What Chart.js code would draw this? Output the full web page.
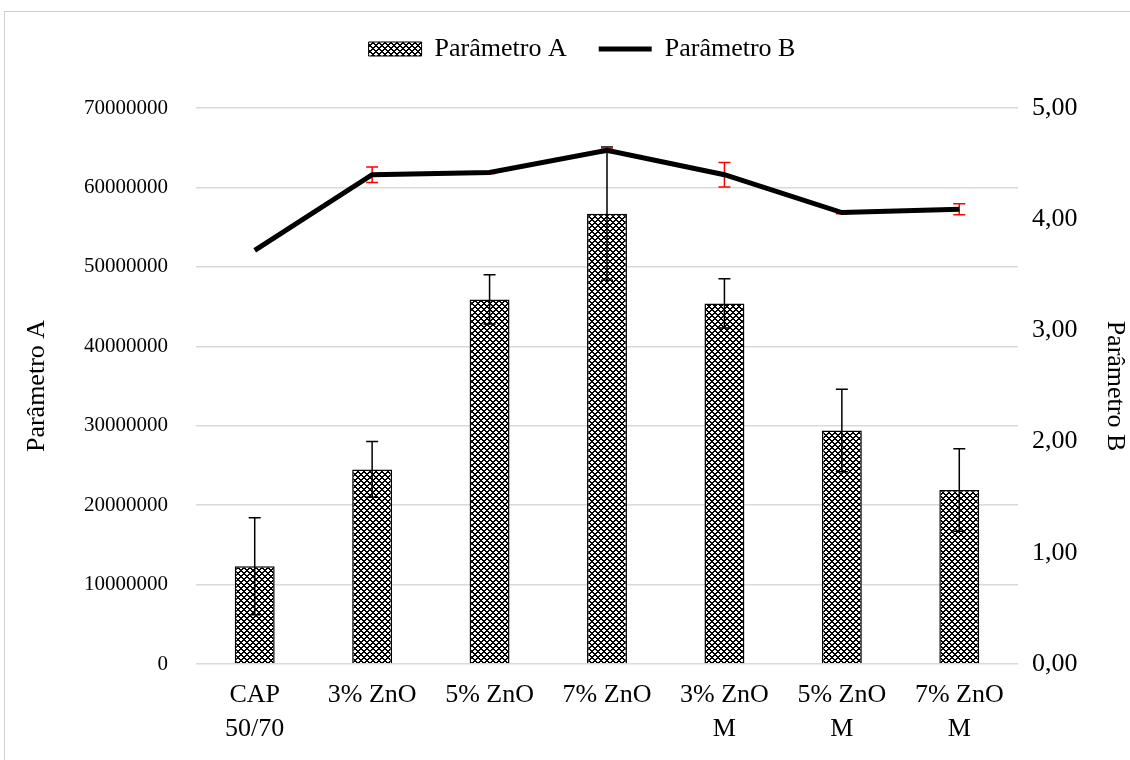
<!DOCTYPE html>
<html>
<head>
<meta charset="utf-8">
<script src="https://cdn.jsdelivr.net/npm/chart.js@4.4.0/dist/chart.umd.min.js"></script>
<style>
  body { margin: 0; background: #fff; }
  #frame { position: absolute; left: 4px; top: 11px; width: 1140px; height: 760px; border: 1px solid #d0d0d0; }
  #wrap { position: absolute; left: 0; top: 0; width: 1130px; height: 760px; }
</style>
</head>
<body>
<div id="frame"></div>
<div id="wrap"><canvas id="myChart"></canvas></div>
<script>
const categories = [["CAP", "50/70"], "3% ZnO", "5% ZnO", "7% ZnO", ["3% ZnO", "M"], ["5% ZnO", "M"], ["7% ZnO", "M"]];
const paramA = [12300000, 24500000, 45900000, 56700000, 45400000, 29400000, 21900000];
const errorA = [6100000, 3500000, 3100000, 8400000, 3100000, 5200000, 5200000];
const paramB = [3.72, 4.40, 4.42, 4.62, 4.40, 4.06, 4.09];
const errorB = [0, 0.07, 0.01, 0.02, 0.11, 0.01, 0.05];

const FONT = "'Liberation Serif', 'Times New Roman', serif";

function makePattern() 
{
    const c = document.createElement('canvas');
    c.width = 6;
    c.height = 6;
    const g = c.getContext('2d');
    g.fillStyle = '#fff';
    g.fillRect(0, 0, 6, 6);
    g.fillStyle = '#000';
    for (let x = 0; x < 6; x++) 
    {
        for (let y = 0; y < 6; y++) 
        {
            const a = (x + y) % 6, b = (x - y + 6) % 6;
            if (a < 2 || b < 2) g.fillRect(x, y, 1, 1);
        }
    }
    return g.createPattern(c, 'repeat');
}

const pattern = makePattern();

// error bars drawn from the data arrays through the scales
const errorBars = 
{
    id: 'errorBars',
    beforeLayout(chart) 
    {
        // leave room under the legend row
        const lg = chart.legend;
        if (lg && !lg._patched) 
        {
            const fit = lg.fit;
            lg.fit = function() { fit.call(this); this.height += 36; };
            lg._patched = true;
        }
    },
    afterLayout(chart) 
    {
        // nudge legend a bit to the right, like the original
        chart.legend.left += 17;
        chart.legend.right += 17;
        chart.legend.adjustHitBoxes();
    },
    afterDatasetDraw(chart, args) 
    {
        if (args.index !== 0) return;
        drawErrors(chart, 0, paramA, errorA, 'y', '#000');
    },
    beforeDatasetDraw(chart, args) 
    {
        if (args.index !== 1) return;
        drawErrors(chart, 1, paramB, errorB, 'y1', '#ff0000');
    }
};

function drawErrors(chart, dsIndex, values, errors, axis, color) 
{
    const ctx = chart.ctx;
    const meta = chart.getDatasetMeta(dsIndex);
    const scale = chart.scales[axis];
    ctx.save();
    ctx.strokeStyle = color;
    ctx.lineWidth = 1.5;
    meta.data.forEach((el, i) => 
    {
        if (!errors[i]) return;
        const x = el.x;
        const top = scale.getPixelForValue(values[i] + errors[i]);
        const bottom = scale.getPixelForValue(values[i] - errors[i]);
        ctx.beginPath();
        ctx.moveTo(x, top);
        ctx.lineTo(x, bottom);
        ctx.moveTo(x - 6, top);
        ctx.lineTo(x + 6, top);
        ctx.moveTo(x - 6, bottom);
        ctx.lineTo(x + 6, bottom);
        ctx.stroke();
    });
    ctx.restore();
}

const ctx = document.getElementById('myChart');
new Chart(ctx, 
{
    data: 
    {
        labels: categories,
        datasets: 
        [{
            type: 'bar',
            label: 'Parâmetro A',
            data: paramA,
            backgroundColor: pattern,
            borderColor: '#000',
            borderWidth: 1.5,
            barPercentage: 0.34,
            categoryPercentage: 1,
            yAxisID: 'y',
            order: 1
        },
        {
            type: 'line',
            label: 'Parâmetro B',
            data: paramB,
            borderColor: '#000',
            backgroundColor: '#000',
            borderWidth: 5,
            pointRadius: 0,
            tension: 0,
            yAxisID: 'y1',
            order: 0
        }]
    },
    options: 
    {
        responsive: true,
        maintainAspectRatio: false,
        animation: false,
        layout: {padding: {top: 4, left: 0, right: 0, bottom: 0}},
        plugins: 
        {
            tooltip: {enabled: false},
            legend: 
            {
                position: 'top',
                labels: 
                {
                    font: {family: FONT, size: 26},
                    color: '#000',
                    usePointStyle: true,
                    pointStyleWidth: 53,
                    boxHeight: 14,
                    padding: 32,
                    generateLabels: () => 
                    [
                        {text: 'Parâmetro A', fillStyle: pattern, strokeStyle: '#000', lineWidth: 1, pointStyle: 'rect', datasetIndex: 0},
                        {text: 'Parâmetro B', fillStyle: '#000', strokeStyle: '#000', lineWidth: 5, pointStyle: 'line', datasetIndex: 1}
                    ]
                }
            }
        },
        scales: 
        {
            x: 
            {
                grid: {display: false},
                border: {display: false},
                ticks: {font: {family: FONT, size: 26, lineHeight: 1.31}, color: '#000', maxRotation: 0, autoSkip: false, padding: 6},
                afterFit: (s) => { s.height = 96; }
            },
            y: 
            {
                position: 'left',
                min: 0,
                max: 70000000,
                ticks: {stepSize: 10000000, font: {family: FONT, size: 21}, color: '#000', padding: 28, callback: (v) => String(v)},
                grid: {color: '#d9d9d9', lineWidth: 1.5, drawTicks: false},
                border: {display: false},
                title: {display: true, text: 'Parâmetro A', font: {family: FONT, size: 26}, color: '#000', padding: {top: 22, bottom: 0}},
                afterFit: (s) => { s.width = 196; }
            },
            y1: 
            {
                position: 'right',
                min: 0,
                max: 5,
                ticks: {stepSize: 1, font: {family: FONT, size: 26}, color: '#000', padding: 14, callback: (v) => v.toFixed(2).replace('.', ',')},
                grid: {display: false, drawTicks: false},
                border: {display: false},
                title: {display: true, text: 'Parâmetro B', font: {family: FONT, size: 26}, color: '#000', padding: {top: 0, bottom: 0}},
                afterFit: (s) => { s.width = 112; }
            }
        }
    },
    plugins: [errorBars]
});
</script>
</body>
</html>
